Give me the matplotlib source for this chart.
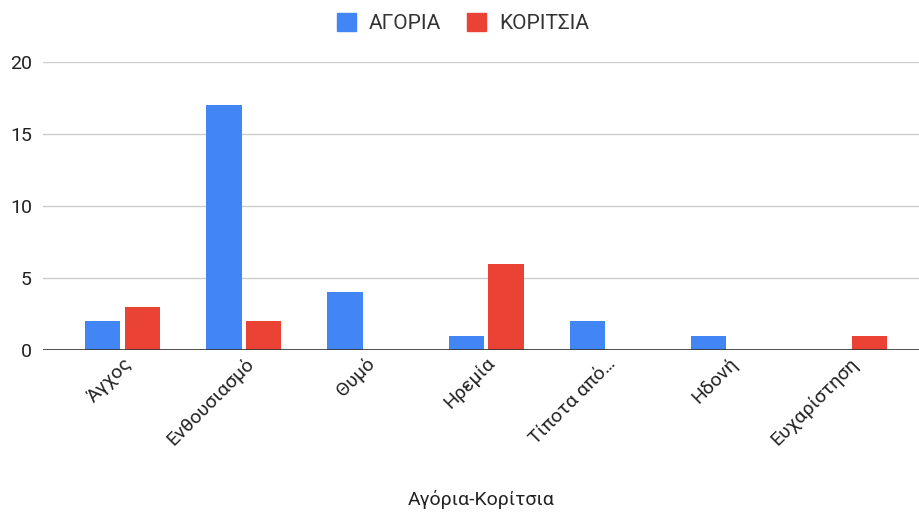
import matplotlib
matplotlib.use('Agg')
import matplotlib.pyplot as plt
import numpy as np
from matplotlib.patches import Patch

categories = ['Άγχος', 'Ενθουσιασμό', 'Θυμό', 'Ηρεμία', 'Τίποτα από…', 'Ηδονή', 'Ευχαρίστηση']
boys = [2, 17, 4, 1, 2, 1, 0]
girls = [3, 2, 0, 6, 0, 0, 1]
series_names = ['ΑΓΟΡΙΑ', 'ΚΟΡΙΤΣΙΑ']

BLUE = '#4285F4'
RED = '#EA4335'
TEXT = '#222222'

plt.rcParams['font.family'] = ['Roboto', 'DejaVu Sans']

fig = plt.figure(figsize=(9.2, 5.19), dpi=100)
ax = fig.add_axes([43 / 920, 169 / 519, 877 / 920, 288 / 519])

x = np.arange(len(categories))
w = 0.29
ax.bar(x - 0.165, boys, width=w, color=BLUE, zorder=3)
ax.bar(x + 0.165, girls, width=w, color=RED, zorder=3)

ax.set_xlim(-0.66, 6.585)
ax.set_ylim(0, 20)
ax.set_yticks([0, 5, 10, 15, 20])
ax.yaxis.grid(True, color='#cccccc', linewidth=1, zorder=0)
ax.axhline(0, color='#333333', linewidth=1.2, zorder=4)
for s in ax.spines.values():
    s.set_visible(False)
ax.tick_params(axis='y', length=0, pad=8, labelsize=14, labelcolor=TEXT)
ax.tick_params(axis='x', length=0, pad=3, labelsize=14, labelcolor=TEXT)
ax.set_xticks(x)
ax.set_xticklabels(categories, rotation=45, ha='right', rotation_mode='anchor')

ax.set_xlabel('Αγόρια-Κορίτσια', fontsize=14, color=TEXT, labelpad=0)
ax.xaxis.set_label_coords(0.5, -0.485)

handles = [Patch(color=BLUE), Patch(color=RED)]
fig.legend(handles, series_names, loc='center', bbox_to_anchor=(0.503, 0.956),
           ncol=2, frameon=False, fontsize=15, handlelength=0.92, handleheight=0.95,
           columnspacing=1.25, handletextpad=0.62, labelcolor='#333333')

fig.savefig('out.png', dpi=100)
